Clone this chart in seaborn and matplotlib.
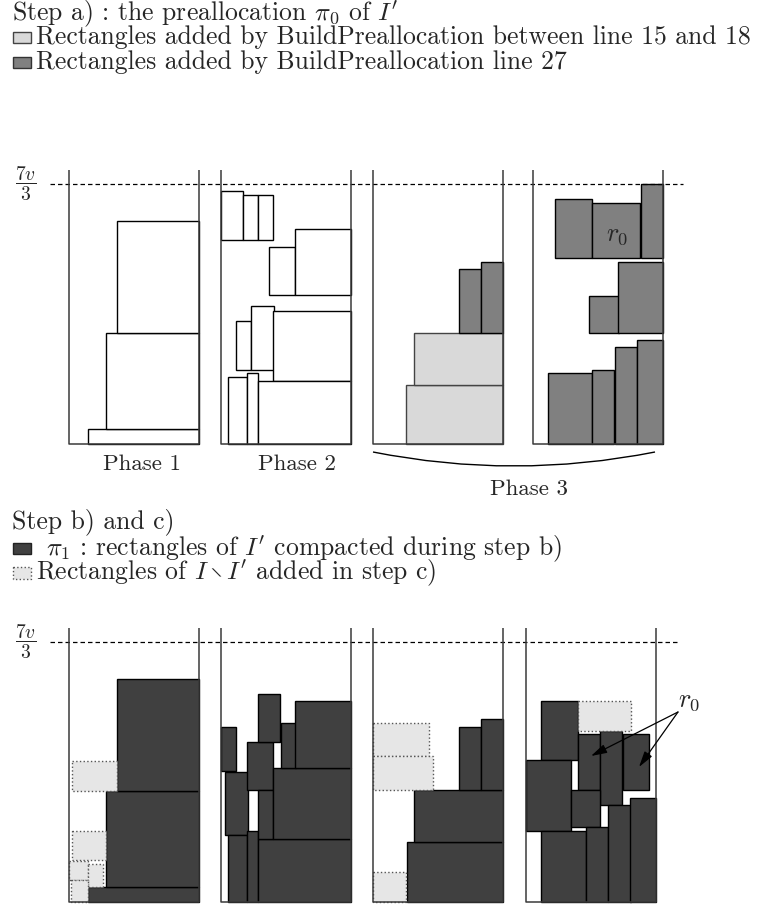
import numpy as np
import matplotlib.pyplot as plt
import seaborn as sns
from matplotlib.patches import Rectangle, PathPatch
from matplotlib.path import Path

sns.set_theme(style="white")
plt.rcParams['font.family'] = ['cmr10', 'DejaVu Serif']
plt.rcParams['mathtext.fontset'] = 'cm'

W, H = 757, 905

# bin geometry (pixels)
top_x = [69, 221, 373, 533]
bot_x = [69, 221, 373, 526]
top_base = 444
bot_base = 902
bin_w = 130
level = 260      # height of the 7v/3 line above the floor
wall_h = 274

# rectangles as (x from left wall, y from floor, width, height)
# --- step a) ---
a_phase1 = [(19, 0, 111, 15), (37, 15, 93, 96), (48, 111, 82, 112)]
a_phase2 = [(0, 204, 22, 48.5), (22, 204, 15, 45), (37, 204, 15, 45),
            (48, 149, 26, 48), (74, 149, 56, 66),
            (15, 74, 15, 49), (30, 74, 22.7, 63.7), (52, 63, 78, 70),
            (7, 0, 19, 67), (26, 0, 11, 71), (37, 0, 93, 63)]
a_phase3_light = [(33, 0, 97, 59), (41, 59, 89, 52)]
a_phase3_mid = [(86, 111, 22, 64), (108, 111, 22, 71)]
a_phase3b_mid = [(15, 0, 44, 71), (59, 0, 22, 74), (82, 0, 22, 97), (104, 0, 26, 104),
                 (56, 111, 30, 37), (85, 111, 45, 71),
                 (22, 186, 37, 59), (59, 186, 48, 55), (108, 186, 22, 74)]

# --- step b) and c) ---
b_bin1_dark = [(19, 0, 111, 15), (37, 15, 93, 96), (48, 111, 82, 112)]
b_bin1_added = [(3, 111, 45, 30), (3, 42, 34, 29), (0, 22, 19, 19),
                (19, 15, 15, 23), (2, 0, 17, 22)]
b_bin2_dark = [(0, 131, 15, 44), (4, 67, 23, 63), (7, 0, 19, 67), (26, 0, 11, 71),
               (37, 0, 93, 63), (26, 112, 26, 48), (37, 63, 15, 49), (52, 63, 78, 71),
               (37, 160, 22, 48), (60, 134, 15, 45), (74, 134, 56, 67)]
b_bin3_dark = [(34, 0, 96, 60), (41, 60, 89, 52), (86, 112, 22, 63), (108, 112, 22, 71)]
b_bin3_added = [(0, 146, 56, 33), (0, 112, 60, 34), (0, 0, 33, 30)]
b_bin4_dark = [(15, 142, 37, 59), (0, 71, 45, 71), (52, 112, 22, 56), (74, 97, 22, 74),
               (97, 112, 26, 56), (45, 75, 29, 37), (15, 0, 45, 71), (60, 0, 22, 75),
               (82, 0, 23, 97), (104, 0, 26, 104)]
b_bin4_added = [(52, 171, 53, 30)]

# r0 arrows in bin 4 (local coords): start, tips, label
r0_start = (152, 190)
r0_tips = [(65, 146), (113, 135)]
r0_label_bot = (163, 201)
r0_label_top = (84, 209)

light = '#d9d9d9'
mid = '#808080'
dark = '#404040'
added = '#e6e6e6'
fs = 18.5


def draw_rects(ax, x0, base, rects, face, edge='black', ls='-'):
    r = np.array(rects, dtype=float)
    ax.bar(x0 + r[:, 0], r[:, 3], width=r[:, 2], bottom=base - r[:, 1] - r[:, 3],
           align='edge', color=face, edgecolor=edge, linewidth=1.0, linestyle=ls)


def draw_bin(ax, x0, base):
    ax.plot([x0, x0, x0 + bin_w, x0 + bin_w],
            [base - wall_h, base, base, base - wall_h],
            color='#3a3a3a', lw=1.1, solid_capstyle='butt')


fig = plt.figure(figsize=(W / 100, H / 100), dpi=100)
ax = fig.add_axes([0, 0, 1, 1])
ax.set_xlim(0, W)
ax.set_ylim(H, 0)
ax.axis('off')

# ===== Step a) =====
ax.text(12, 14, r"Step a) : the preallocation $\pi_0$ of $I'$", va='center', fontsize=fs)
ax.add_patch(Rectangle((12.7, 31.7), 18, 11.6, facecolor=light, edgecolor='#444444', lw=1))
ax.text(36, 37.5, "Rectangles added by BuildPreallocation between line 15 and 18",
        va='center', fontsize=fs)
ax.add_patch(Rectangle((12.7, 56.7), 18, 11.6, facecolor=mid, edgecolor='#333333', lw=1))
ax.text(36, 62.5, "Rectangles added by BuildPreallocation line 27", va='center', fontsize=fs)

ax.hlines(top_base - level, 50, 683, colors='black', lw=0.9, linestyles=(0, (3.6, 2.4)))
ax.text(26, top_base - level, r"$\dfrac{7v}{3}$", ha='center', va='center', fontsize=14)

for x0 in top_x:
    draw_bin(ax, x0, top_base)
draw_rects(ax, top_x[0], top_base, a_phase1, 'white')
draw_rects(ax, top_x[1], top_base, a_phase2, 'white')
draw_rects(ax, top_x[2], top_base, a_phase3_light, light, edge='#444444')
draw_rects(ax, top_x[2], top_base, a_phase3_mid, mid)
draw_rects(ax, top_x[3], top_base, a_phase3b_mid, mid)
ax.text(top_x[3] + r0_label_top[0], top_base - r0_label_top[1], r"$r_0$",
        ha='center', va='center', fontsize=19)

ax.text(142, 464, "Phase 1", ha='center', va='center', fontsize=16.5)
ax.text(297, 464, "Phase 2", ha='center', va='center', fontsize=16.5)
ax.text(529, 489, "Phase 3", ha='center', va='center', fontsize=16.5)

# curved brace under the two phase 3 bins
bx0, bx1 = top_x[2], top_x[3] + 122
by = top_base + 8
brace = Path([(bx0, by), ((bx0 + bx1) / 2, by + 28), (bx1, by)],
             [Path.MOVETO, Path.CURVE3, Path.CURVE3])
ax.add_patch(PathPatch(brace, facecolor='none', edgecolor='black', lw=1.0))

# ===== Step b) and c) =====
ax.text(12, 522, "Step b) and c)", va='center', fontsize=fs)
ax.add_patch(Rectangle((12.7, 542.7), 18, 11.6, facecolor=dark, edgecolor='#222222', lw=1))
ax.text(46, 548.5, r"$\pi_1$ : rectangles of $I'$ compacted during step b)",
        va='center', fontsize=fs)
ax.add_patch(Rectangle((12.7, 567), 18, 11.6, facecolor=added, edgecolor='#555555',
                       lw=1, linestyle=':'))
ax.text(36, 573, r"Rectangles of $I \:\setminus\: I'$ added in step c)",
        va='center', fontsize=fs)

ax.hlines(bot_base - level, 50, 678, colors='black', lw=0.9, linestyles=(0, (3.6, 2.4)))
ax.text(26, bot_base - level, r"$\dfrac{7v}{3}$", ha='center', va='center', fontsize=14)

for x0 in bot_x:
    draw_bin(ax, x0, bot_base)
draw_rects(ax, bot_x[0], bot_base, b_bin1_dark, dark)
draw_rects(ax, bot_x[0], bot_base, b_bin1_added, added, edge='#555555', ls=':')
draw_rects(ax, bot_x[1], bot_base, b_bin2_dark, dark)
draw_rects(ax, bot_x[2], bot_base, b_bin3_dark, dark)
draw_rects(ax, bot_x[2], bot_base, b_bin3_added, added, edge='#555555', ls=':')
draw_rects(ax, bot_x[3], bot_base, b_bin4_dark, dark)
draw_rects(ax, bot_x[3], bot_base, b_bin4_added, added, edge='#555555', ls=':')

sx, sy = bot_x[3] + r0_start[0], bot_base - r0_start[1]
for tx, ty in r0_tips:
    ax.annotate('', xy=(bot_x[3] + tx, bot_base - ty), xytext=(sx, sy),
                arrowprops=dict(arrowstyle='-|>,head_length=0.6,head_width=0.17',
                                color='black', lw=0.9, mutation_scale=16,
                                shrinkA=0, shrinkB=0))
ax.text(bot_x[3] + r0_label_bot[0], bot_base - r0_label_bot[1], r"$r_0$",
        ha='center', va='center', fontsize=19)

fig.savefig('out.png', dpi=100)
